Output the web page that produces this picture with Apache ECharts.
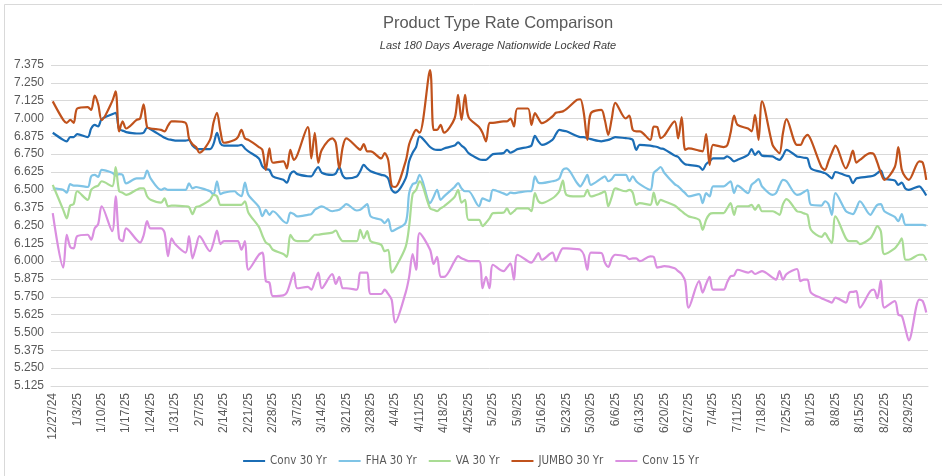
<!DOCTYPE html>
<html>
<head>
<meta charset="utf-8">
<script src="https://cdn.jsdelivr.net/npm/echarts@6/dist/echarts.min.js"></script>
<style>
  html, body { margin: 0; padding: 0; background: #fff; }
  #chart { width: 942px; height: 476px; }
</style>
</head>
<body>
<div id="chart"></div>
<script>
// weekday rates, 12/27/24 .. 9/3/25 (weekends skipped)
var conv30 = [6.90,
  6.85, 6.84, 6.87, 6.87, 6.89,   6.87, 6.93, 6.955, 6.945, 6.995,
  7.03, 7.04, 6.925, 6.915, 6.905, 6.895, 6.895, 6.90, 6.935, 6.925,
  6.88, 6.865, 6.855, 6.85, 6.845, 6.845, 6.85, 6.81, 6.79, 6.785,
  6.785, 6.82, 6.90, 6.825, 6.81, 6.81, 6.81, 6.815, 6.79, 6.77,
  6.72, 6.665, 6.645, 6.64, 6.595, 6.57, 6.55, 6.61, 6.63, 6.61,
  6.595, 6.594, 6.63, 6.66, 6.62, 6.605, 6.615, 6.66, 6.60, 6.58,
  6.594, 6.63, 6.675, 6.65, 6.63, 6.605, 6.60, 6.58, 6.50, 6.48,
  6.58, 6.70, 6.76, 6.80, 6.875, 6.80, 6.785, 6.78, 6.78, 6.79,
  6.81, 6.832, 6.81, 6.79, 6.757, 6.715, 6.71, 6.71, 6.73, 6.75,
  6.757, 6.78, 6.76, 6.77, 6.785, 6.80, 6.81, 6.878, 6.84, 6.815,
  6.85, 6.89, 6.92, 6.915, 6.91, 6.878, 6.87, 6.87, 6.862, 6.855,
  6.84, 6.845, 6.85, 6.86, 6.87, 6.862, 6.86, 6.85, 6.78, 6.815,
  6.81, 6.805, 6.80, 6.79, 6.785, 6.74, 6.73, 6.70, 6.68, 6.675,
  6.664, 6.64, 6.68, 6.70, 6.72, 6.72, 6.734, 6.72, 6.70, 6.71,
  6.745, 6.785, 6.745, 6.77, 6.74, 6.734, 6.72, 6.71, 6.74, 6.78,
  6.734, 6.73, 6.725, 6.72, 6.65, 6.625, 6.617, 6.60, 6.58, 6.625,
  6.60, 6.594, 6.547, 6.58, 6.585, 6.594, 6.60, 6.617, 6.635, 6.58,
  6.565, 6.535, 6.55, 6.51, 6.50, 6.524, 6.50, 6.46];

var fha30 = [6.51,
  6.50, 6.48, 6.54, 6.53, 6.53,   6.52, 6.595, 6.605, 6.59, 6.64,
  6.62, 6.60, 6.61, 6.605, 6.545, 6.58, 6.58, 6.58, 6.635, 6.58,
  6.50, 6.51, 6.50, 6.50, 6.50, 6.50, 6.545, 6.51, 6.52, 6.515,
  6.49, 6.465, 6.56, 6.47, 6.48, 6.49, 6.47, 6.455, 6.55, 6.465,
  6.38, 6.315, 6.36, 6.325, 6.35, 6.28, 6.267, 6.34, 6.33, 6.314,
  6.325, 6.33, 6.36, 6.375, 6.384, 6.35, 6.355, 6.36, 6.38, 6.40,
  6.355, 6.36, 6.38, 6.40, 6.314, 6.29, 6.267, 6.295, 6.21, 6.22,
  6.27, 6.477, 6.54, 6.55, 6.605, 6.407, 6.45, 6.50, 6.43, 6.454,
  6.52, 6.547, 6.51, 6.49, 6.49, 6.385, 6.44, 6.43, 6.42, 6.50,
  6.475, 6.465, 6.48, 6.477, 6.48, 6.49, 6.49, 6.594, 6.55, 6.547,
  6.56, 6.565, 6.58, 6.64, 6.65, 6.55, 6.524, 6.56, 6.605, 6.535,
  6.58, 6.594, 6.56, 6.575, 6.605, 6.605, 6.56, 6.594, 6.56, 6.54,
  6.50, 6.617, 6.64, 6.66, 6.62, 6.54, 6.524, 6.50, 6.477, 6.454,
  6.47, 6.407, 6.477, 6.454, 6.524, 6.524, 6.54, 6.56, 6.477, 6.53,
  6.477, 6.535, 6.555, 6.575, 6.524, 6.465, 6.477, 6.53, 6.57, 6.56,
  6.465, 6.47, 6.485, 6.50, 6.395, 6.39, 6.42, 6.40, 6.325, 6.477,
  6.35, 6.337, 6.33, 6.37, 6.42, 6.325, 6.36, 6.395, 6.40, 6.35,
  6.31, 6.28, 6.33, 6.255, 6.255, 6.255, 6.255, 6.25];

var va30 = [6.535,
  6.36, 6.30, 6.39, 6.40, 6.49,   6.43, 6.50, 6.52, 6.53, 6.56,
  6.525, 6.66, 6.49, 6.48, 6.465, 6.50, 6.51, 6.51, 6.455, 6.43,
  6.41, 6.44, 6.385, 6.39, 6.39, 6.385, 6.38, 6.33, 6.38, 6.385,
  6.43, 6.465, 6.455, 6.395, 6.395, 6.395, 6.395, 6.395, 6.42, 6.34,
  6.24, 6.18, 6.13, 6.115, 6.08, 6.05, 6.03, 6.185, 6.15, 6.14,
  6.14, 6.16, 6.185, 6.185, 6.19, 6.20, 6.215, 6.17, 6.14, 6.14,
  6.14, 6.22, 6.16, 6.21, 6.14, 6.115, 6.07, 6.08, 5.92, 5.95,
  6.10, 6.245, 6.47, 6.50, 6.56, 6.37, 6.36, 6.35, 6.37, 6.385,
  6.45, 6.50, 6.41, 6.43, 6.29, 6.29, 6.245, 6.27, 6.30, 6.337,
  6.34, 6.37, 6.33, 6.35, 6.37, 6.37, 6.35, 6.477, 6.42, 6.407,
  6.44, 6.46, 6.49, 6.565, 6.465, 6.454, 6.454, 6.455, 6.50, 6.454,
  6.477, 6.49, 6.385, 6.45, 6.51, 6.49, 6.50, 6.48, 6.395, 6.407,
  6.395, 6.48, 6.395, 6.43, 6.42, 6.39, 6.37, 6.35, 6.33, 6.314,
  6.29, 6.22, 6.29, 6.33, 6.337, 6.337, 6.37, 6.407, 6.325, 6.385,
  6.385, 6.395, 6.36, 6.395, 6.35, 6.35, 6.34, 6.325, 6.40, 6.435,
  6.35, 6.345, 6.335, 6.325, 6.22, 6.17, 6.197, 6.16, 6.127, 6.314,
  6.16, 6.14, 6.14, 6.14, 6.12, 6.16, 6.20, 6.245, 6.21, 6.05,
  6.09, 6.12, 6.16, 6.01, 6.01, 6.045, 6.045, 6.005];

var jumbo30 = [7.12,
  6.99, 6.97, 6.99, 6.97, 7.07,   7.08, 7.06, 7.16, 7.10, 6.99,
  7.12, 7.19, 6.91, 6.98, 6.93, 6.99, 7.00, 7.10, 6.94, 6.93,
  6.92, 6.91, 6.95, 6.98, 6.98, 6.97, 6.86, 6.82, 6.80, 6.76,
  6.85, 6.97, 7.04, 6.91, 6.83, 6.85, 6.87, 6.92, 6.86, 6.85,
  6.80, 6.78, 6.64, 6.79, 6.69, 6.70, 6.65, 6.78, 6.71, 6.745,
  6.94, 6.72, 6.90, 6.69, 6.78, 6.86, 6.83, 6.65, 6.80, 6.86,
  6.80, 6.78, 6.82, 6.77, 6.77, 6.72, 6.757, 6.71, 6.53, 6.52,
  6.70, 6.82, 6.88, 6.92, 6.90, 7.34, 6.92, 6.92, 6.955, 6.90,
  7.00, 7.165, 6.99, 7.165, 7.01, 6.94, 6.90, 6.84, 6.97, 6.97,
  6.98, 6.98, 7.00, 6.944, 7.07, 7.07, 6.955, 7.037, 7.00, 6.967,
  7.014, 7.04, 7.045, 7.05, 7.065, 7.13, 7.135, 7.037, 6.85, 7.037,
  7.06, 6.99, 6.885, 7.00, 7.11, 7.00, 7.02, 6.92, 6.91, 6.91,
  6.85, 6.944, 6.94, 6.862, 6.88, 6.98, 6.86, 7.01, 6.78, 6.79,
  6.775, 6.77, 6.89, 6.675, 6.815, 6.80, 6.81, 6.90, 7.02, 6.955,
  6.93, 6.91, 7.025, 6.85, 7.12, 6.815, 6.78, 6.757, 6.90, 6.995,
  6.815, 6.815, 6.86, 6.885, 6.85, 6.66, 6.64, 6.70, 6.76, 6.81,
  6.65, 6.70, 6.775, 6.69, 6.71, 6.757, 6.75, 6.69, 6.62, 6.57,
  6.66, 6.80, 6.64, 6.59, 6.57, 6.70, 6.69, 6.57];

var conv15 = [6.337,
  5.955, 6.185, 6.10, 6.09, 6.175,   6.185, 6.15, 6.23, 6.26, 6.385,
  6.21, 6.455, 6.16, 6.14, 6.23, 6.15, 6.13, 6.18, 6.28, 6.23,
  6.23, 6.20, 6.035, 6.16, 6.12, 6.06, 6.175, 6.02, 6.10, 6.175,
  6.07, 6.13, 6.215, 6.12, 6.14, 6.14, 6.14, 6.08, 6.14, 5.94,
  6.045, 6.06, 5.86, 5.85, 5.755, 5.76, 5.78, 5.85, 5.92, 5.81,
  5.82, 5.80, 5.86, 5.92, 5.81, 5.91, 5.84, 5.89, 5.81, 5.81,
  5.80, 5.92, 5.92, 5.92, 5.77, 5.77, 5.80, 5.77, 5.73, 5.57,
  5.78, 5.89, 6.05, 5.94, 6.197, 6.08, 5.98, 6.03, 5.89, 5.89,
  6.00, 6.035, 6.02, 6.01, 6.00, 6.00, 5.81, 5.89, 5.81, 5.975,
  5.93, 5.955, 5.985, 5.87, 6.045, 6.00, 5.99, 6.02, 6.057, 6.01,
  6.06, 6.00, 6.05, 6.09, 6.09, 6.085, 6.08, 6.045, 5.94, 6.06,
  6.057, 5.99, 5.96, 6.02, 6.045, 6.034, 6.015, 6.02, 6.02, 6.00,
  6.034, 6.03, 5.955, 5.96, 5.965, 5.95, 5.93, 5.91, 5.86, 5.675,
  5.86, 5.78, 5.84, 5.89, 5.80, 5.80, 5.85, 5.894, 5.90, 5.94,
  5.92, 5.93, 5.91, 5.92, 5.93, 5.885, 5.87, 5.93, 5.87, 5.91,
  5.945, 5.86, 5.87, 5.87, 5.78, 5.74, 5.73, 5.72, 5.71, 5.745,
  5.71, 5.78, 5.785, 5.79, 5.675, 5.79, 5.80, 5.74, 5.865, 5.675,
  5.72, 5.625, 5.615, 5.53, 5.445, 5.73, 5.72, 5.64];

var seriesNames = ['Conv 30 Yr', 'FHA 30 Yr', 'VA 30 Yr', 'JUMBO 30 Yr', 'Conv 15 Yr'];
var seriesColors = ['#1b6db5', '#7fc4e6', '#a9dc94', '#c0521c', '#da8fe0'];
var startDate = Date.UTC(2024, 11, 27);
var dayCount = 251;

// date axis: every calendar day, weekends left empty
var dates = [], isWeekday = [];
for (var i = 0; i < dayCount; i++) {
	var d = new Date(startDate + i * 86400000);
	dates.push((d.getUTCMonth() + 1) + '/' + d.getUTCDate() + '/' + String(d.getUTCFullYear()).slice(2));
	var wd = d.getUTCDay();
	isWeekday.push(wd !== 0 && wd !== 6);
}
var spread = function(vals) {
	var out = [], k = 0;
	for (var i = 0; i < dayCount; i++) {
		out.push(isWeekday[i] ? vals[k++] : null);
	}
	return out;
};

var allData = [conv30, fha30, va30, jumbo30, conv15];
var font = 'Liberation Sans, Arial, sans-serif';
var narrow = 'Liberation Sans Narrow, Arial Narrow, DejaVu Sans Condensed, sans-serif';

var myChart = echarts.init(document.getElementById('chart'));
var option = {
	animation : false,
	backgroundColor : '#ffffff',
	title : [ {
		text : 'Product Type Rate Comparison',
		left : 493,
		top : 10,
		textAlign : 'center',
		textStyle : { fontFamily : font, fontSize : 16.5, fontWeight : 'normal', color : '#595959' }
	}, {
		text : 'Last 180 Days Average Nationwide Locked Rate',
		left : 493,
		top : 35,
		textAlign : 'center',
		textStyle : { fontFamily : font, fontSize : 11, fontStyle : 'italic', fontWeight : 'normal', color : '#404040' }
	} ],
	legend : {
		top : 450,
		left : 'center',
		icon : 'rect',
		itemWidth : 22,
		itemHeight : 2,
		itemGap : 12,
		textStyle : { fontFamily : narrow, fontSize : 11.5, color : '#595959' },
		data : seriesNames
	},
	grid : { left : 51, right : 14, top : 65, bottom : 90, containLabel : false },
	xAxis : {
		type : 'category',
		data : dates,
		boundaryGap : true,
		axisLine : { show : true, lineStyle : { color : '#d9d9d9' } },
		axisTick : { show : false },
		axisLabel : {
			interval : 6,
			rotate : 90,
			margin : 7,
			fontFamily : font,
			fontSize : 12,
			color : '#595959'
		}
	},
	yAxis : {
		type : 'value',
		min : 5.125,
		max : 7.375,
		interval : 0.125,
		axisLine : { show : false },
		axisTick : { show : false },
		splitLine : { lineStyle : { color : '#d9d9d9', width : 1 } },
		axisLabel : {
			margin : 7,
			fontFamily : font,
			fontSize : 12,
			color : '#595959',
			formatter : function(v) { return v.toFixed(3); }
		}
	},
	graphic : [ {
		type : 'rect',
		shape : { x : 4.5, y : 4.5, width : 980, height : 520 },
		style : { fill : 'none', stroke : '#d9d9d9', lineWidth : 1 },
		silent : true
	} ],
	series : seriesNames.map(function(name, idx) {
		return {
			name : name,
			type : 'line',
			data : spread(allData[idx]),
			connectNulls : true,
			showSymbol : false,
			symbol : 'none',
			smooth : 0.3,
			color : seriesColors[idx],
			lineStyle : { width : 2.2, color : seriesColors[idx] }
		};
	})
};
myChart.setOption(option);
</script>
</body>
</html>
